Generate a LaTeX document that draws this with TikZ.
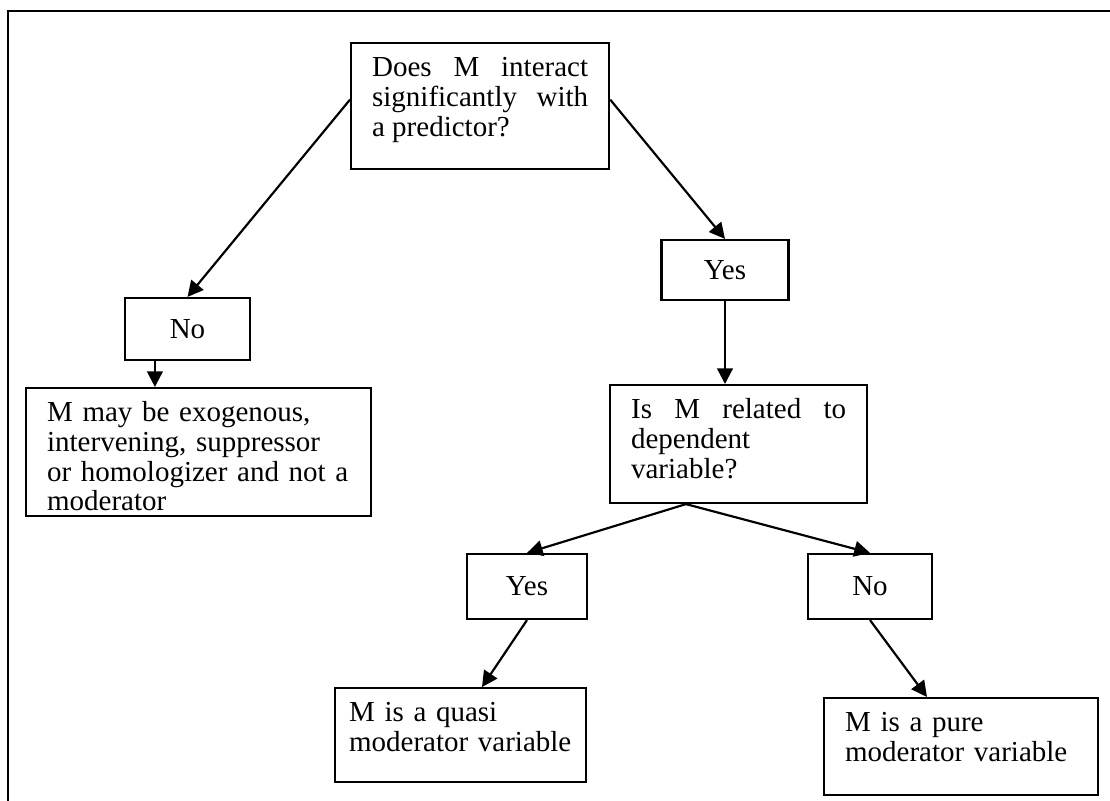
\documentclass[tikz,border=0pt]{standalone}
\usepackage{fontspec}
\setmainfont{Liberation Serif}
\usetikzlibrary{arrows.meta,calc}
\hyphenpenalty=10000
\def\pxu{0.4138pt}
\tikzset{
  qbox/.style={draw, line width=0.9pt, anchor=north west, inner xsep=8.7pt, inner ysep=5.65pt,
    text height=8pt, font=\fontsize{12}{12.4}\selectfont},
  ansbox/.style={draw, line width=0.9pt, inner sep=0pt, font=\fontsize{12}{12.4}\selectfont},
  arr/.style={line width=0.9pt, -{Triangle[length=6.5pt,width=6.5pt]}}
}
\begin{document}
\begin{tikzpicture}[x=\pxu,y=-\pxu]
\useasboundingbox (0,0) rectangle (1110,801);
% frame
\draw[line width=0.9pt] (8,801) -- (8,11) -- (1110,11);

% questions and answers
\node (topq) [qbox, align=justify, text width=216*\pxu, text depth=32.8pt] at (350,42)
  {Does M interact\linebreak significantly with\linebreak a predictor?};
\node (noleft) [ansbox, minimum width=125*\pxu, minimum height=62*\pxu] at (187.5,329) {No};
\node (exo) [qbox, align=left, text width=303*\pxu, text depth=33.7pt] at (25,387)
  {M may be exogenous,\\ intervening, suppressor\\ or homologizer and not a\\ moderator};
\node (yesright) [ansbox, minimum width=127*\pxu, minimum height=60*\pxu] at (725,270) {Yes};
\node (ism) [qbox, align=justify, text width=215*\pxu, text depth=29.5pt] at (609,384)
  {Is M related to\linebreak dependent\linebreak variable?};
\node (yeslow) [ansbox, minimum width=120*\pxu, minimum height=65*\pxu] at (527,586.5) {Yes};
\node (nolow) [ansbox, minimum width=124*\pxu, minimum height=65*\pxu] at (870,586.5) {No};
\node (quasi) [qbox, align=left, inner xsep=14*\pxu, text width=223*\pxu, text depth=19.6pt] at (334,687)
  {M is a quasi\\ moderator variable};
\node (pure) [qbox, align=left, text width=232*\pxu, text depth=20.8pt] at (823,697)
  {M is a pure\\ moderator variable};

% connectors
\coordinate (topl) at ($(topq.north west)!0.45!(topq.south west)$);
\coordinate (topr) at ($(topq.north east)!0.45!(topq.south east)$);
\coordinate (nodrop) at ($(noleft.south west)+(31,0)$);
\coordinate (ismfork) at ($(ism.south west)+(77,0)$);
\coordinate (quasiin) at ($(quasi.north west)+(148,0)$);
\coordinate (purein) at ($(pure.north west)+(104,0)$);
\draw[arr] (topl) -- (noleft.north);
\draw[arr] (topr) -- (yesright.north);
\draw[arr] (nodrop) -- (nodrop |- exo.north);
\draw[arr] (yesright.south) -- (yesright.south |- ism.north);
\draw[arr] (ismfork) -- (yeslow.north);
\draw[arr] (ismfork) -- (nolow.north);
\draw[arr] (yeslow.south) -- (quasiin);
\draw[arr] (nolow.south) -- (purein);
\end{tikzpicture}
\end{document}
